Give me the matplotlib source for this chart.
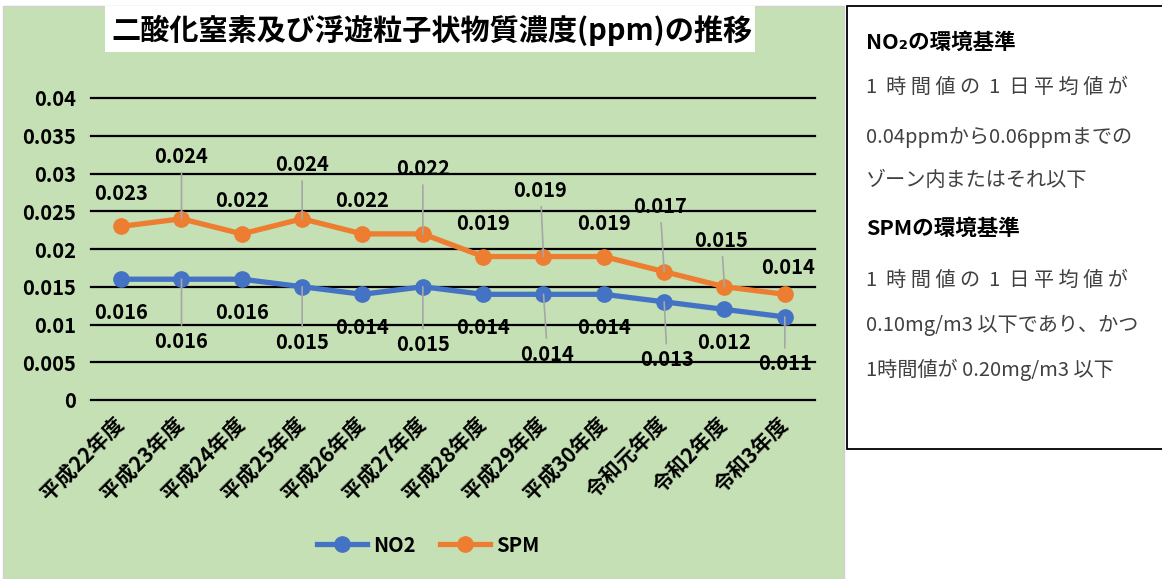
import matplotlib.pyplot as plt
from matplotlib.patches import Rectangle

plt.rcParams['font.family'] = ['Noto Sans CJK JP', 'DejaVu Sans']

years = ['平成22年度', '平成23年度', '平成24年度', '平成25年度', '平成26年度', '平成27年度',
         '平成28年度', '平成29年度', '平成30年度', '令和元年度', '令和2年度', '令和3年度']
no2 = [0.016, 0.016, 0.016, 0.015, 0.014, 0.015, 0.014, 0.014, 0.014, 0.013, 0.012, 0.011]
spm = [0.023, 0.024, 0.022, 0.024, 0.022, 0.022, 0.019, 0.019, 0.019, 0.017, 0.015, 0.014]
yticks = [0, 0.005, 0.01, 0.015, 0.02, 0.025, 0.03, 0.035, 0.04]

# label offsets in pixels (dx, dy) so the labels don't collide
spm_off = [(0, 33), (0, 62), (0, 33), (0, 54), (0, 33), (0, 65),
           (0, 33), (-3, 66), (0, 33), (-4, 65), (-3, 46), (3, 27)]
no2_off = [(0, -33), (0, -62), (0, -33), (0, -56), (0, -33), (0, -58),
           (0, -33), (4, -60), (0, -33), (3, -58), (0, -33), (0, -47)]

W, H = 1162, 579
fig = plt.figure(figsize=(W / 100, H / 100), dpi=100)
fig.patch.set_facecolor('white')

# green chart area and white title strip
fig.add_artist(Rectangle((3 / W, 0), 841 / W, (H - 6) / H, transform=fig.transFigure,
                         facecolor='#C5E0B4', edgecolor='#D0D0D0', lw=1, zorder=0))
fig.add_artist(Rectangle((105 / W, (H - 52) / H), 650 / W, 46 / H, transform=fig.transFigure,
                         facecolor='white', edgecolor='none', zorder=1))
fig.text(432 / W, (H - 30) / H, '二酸化窒素及び浮遊粒子状物質濃度(ppm)の推移',
         ha='center', va='center', fontsize=21, fontweight='bold', zorder=2)

ax = fig.add_axes([91 / W, (H - 400) / H, 724 / W, 302 / H])
ax.patch.set_alpha(0)
x = list(range(len(years)))
ax.set_xlim(-0.5, len(years) - 0.5)
ax.set_ylim(0, 0.04)
for s in ax.spines.values():
    s.set_visible(False)
for t in yticks:
    ax.axhline(t, color='black', lw=1.6, clip_on=False, zorder=1)
ax.set_yticks(yticks)
ax.set_yticklabels([f'{t:g}' for t in yticks], fontsize=14.5, fontweight='bold')
ax.tick_params(axis='y', length=0, pad=11)
ax.set_xticks(x)
ax.set_xticklabels(years, rotation=45, ha='right', va='center', rotation_mode='anchor',
                   fontsize=15, fontweight='bold')
ax.tick_params(axis='x', length=0, pad=15)

ax.plot(x, no2, color='#4472C4', lw=3.8, marker='o', ms=11, label='NO2', zorder=3)
ax.plot(x, spm, color='#ED7D31', lw=3.8, marker='o', ms=11, label='SPM', zorder=3)

for vals, offs in ((spm, spm_off), (no2, no2_off)):
    for i, (v, (dx, dy)) in enumerate(zip(vals, offs)):
        arrow = None
        if abs(dy) > 40:
            arrow = dict(arrowstyle='-', color='#A6A6A6', lw=1.2, shrinkA=2, shrinkB=0)
        ax.annotate(f'{v:.3f}', (i, v), xytext=(dx, dy), textcoords='offset pixels',
                    ha='center', va='center', fontsize=14.5, fontweight='bold',
                    arrowprops=arrow, zorder=4)

fig.legend(loc='center', bbox_to_anchor=(428 / W, (H - 545) / H), ncol=2,
           frameon=False, prop={'weight': 'bold', 'size': 14.5},
           handlelength=2.5, columnspacing=1.2, handletextpad=0.3)

# standards box on the right
fig.add_artist(Rectangle((847 / W, (H - 449) / H), 320 / W, 443 / H, transform=fig.transFigure,
                         facecolor='white', edgecolor='black', lw=1.3, zorder=1))
heads = [(42, 'NO₂の環境基準'), (228, 'SPMの環境基準')]
lines = [(87, '1  時 間 値 の  1  日 平 均 値 が'), (137, '0.04ppmから0.06ppmまでの'),
         (181, 'ゾーン内またはそれ以下'), (280, '1  時 間 値 の  1  日 平 均 値 が'),
         (325, '0.10mg/m3 以下であり、かつ'), (370, '1時間値が 0.20mg/m3 以下')]
for y, s in heads:
    fig.text(866 / W, (H - y) / H, s, ha='left', va='center', fontsize=15.5,
             fontweight='bold', color='black', zorder=2)
for y, s in lines:
    fig.text(866 / W, (H - y) / H, s, ha='left', va='center', fontsize=14.5,
             color='#404040', zorder=2)

fig.savefig('out.png', dpi=100)
